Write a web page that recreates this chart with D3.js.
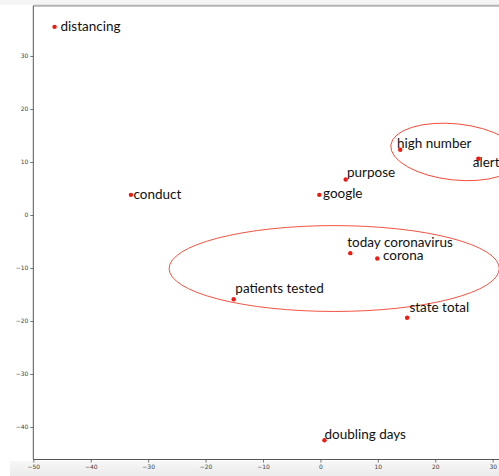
<!DOCTYPE html>
<html><head><meta charset="utf-8">
<script src="https://cdn.jsdelivr.net/npm/d3@7"></script>
<style>body{margin:0;background:#fff} svg{display:block}</style>
</head><body>
<svg id="chart" width="499" height="476"></svg>
<script>
// Word-embedding projection: each term and its 2-D coordinates
const words = ["distancing","conduct","google","purpose","today coronavirus","corona","patients tested","state total","doubling days","high number","alert"];
const xVals = [-46.3,-33.0,-0.2,4.4,5.2,9.9,-15.1,15.1,0.7,13.9,27.5];
const yVals = [35.5,3.8,3.8,6.7,-7.2,-8.2,-15.9,-19.4,-42.5,12.3,10.6];

const xTicks = [-50,-40,-30,-20,-10,0,10,20,30];
const yTicks = [-40,-30,-20,-10,0,10,20,30];

// Highlighted clusters: centre, full width / height (data units), tilt (deg)
const clusterCx = [2.4, 23.5];
const clusterCy = [-10.1, 11.9];
const clusterW = [57.5, 22.6];
const clusterH = [16.2, 10.6];
const clusterTilt = [0, 6];

// Per-label nudges in pixels so the annotations do not collide
const labelDx = [6, 2.6, 3.7, 1.3, -3, 5.7, 1.6, 2.3, 0, -3.3, -5.6];
const labelDy = [4, 4, 2.7, -2, -6.6, 1.3, -6, -5.7, -1.7, -1.7, 8.6];

const W = 499, H = 476;
const plot = {left: 33.3, top: 5.7, bottom: 459.5, right: 560};

const svg = d3.select("#chart");

// notebook frame tint
svg.append("rect").attr("x", 0).attr("y", 0).attr("width", W).attr("height", 5).attr("fill", "#f5f5f5");
const grad = svg.append("defs").append("linearGradient").attr("id", "band").attr("x1", 0).attr("y1", 0).attr("x2", 0).attr("y2", 1);
grad.append("stop").attr("offset", 0).attr("stop-color", "#f7f7f7");
grad.append("stop").attr("offset", 1).attr("stop-color", "#ebebeb");
svg.append("rect").attr("x", 10).attr("y", 461).attr("width", W - 10).attr("height", H - 461).attr("fill", "url(#band)");

const x = d3.scaleLinear().domain([-50, 30]).range([33.3, 492.7]);
const y = d3.scaleLinear().domain([-40, 30]).range([427, 56]);

const fmt = d => (d < 0 ? "\u2212" + Math.abs(d) : String(d));

const gx = svg.append("g").attr("transform", `translate(0,${plot.bottom})`)
  .call(d3.axisBottom(x).tickValues(xTicks).tickFormat(fmt).tickSize(3).tickPadding(2));
const gy = svg.append("g").attr("transform", `translate(${plot.left},0)`)
  .call(d3.axisLeft(y).tickValues(yTicks).tickFormat(fmt).tickSize(3).tickPadding(2));
[gx, gy].forEach(g => {
  g.select(".domain").remove();
  g.selectAll(".tick line").attr("stroke", "#555").attr("stroke-width", 0.8);
  g.selectAll(".tick text").attr("fill", "#444").attr("font-family", "DejaVu Sans").attr("font-size", 6);
});

// spines
svg.append("line").attr("x1", plot.left).attr("x2", W).attr("y1", plot.top).attr("y2", plot.top)
  .attr("stroke", "#b4b4b4").attr("stroke-width", 2);
svg.append("line").attr("x1", plot.left).attr("x2", plot.left).attr("y1", plot.top).attr("y2", plot.bottom)
  .attr("stroke", "#555").attr("stroke-width", 1);
svg.append("line").attr("x1", plot.left).attr("x2", W).attr("y1", plot.bottom).attr("y2", plot.bottom)
  .attr("stroke", "#555").attr("stroke-width", 1);

// cluster outlines
clusterCx.forEach((cx, i) => {
  const px = x(cx), py = y(clusterCy[i]);
  const rx = x(cx + clusterW[i] / 2) - px;
  const ry = py - y(clusterCy[i] + clusterH[i] / 2);
  svg.append("ellipse").attr("cx", px).attr("cy", py).attr("rx", rx).attr("ry", ry)
    .attr("transform", `rotate(${clusterTilt[i]},${px},${py})`)
    .attr("fill", "none").attr("stroke", "#f2412e").attr("stroke-width", 0.9);
});

// points
words.forEach((w, i) => {
  svg.append("circle").attr("cx", x(xVals[i])).attr("cy", y(yVals[i])).attr("r", 2.2).attr("fill", "#f01a10");
});

// labels
words.forEach((w, i) => {
  svg.append("text").attr("x", x(xVals[i]) + labelDx[i]).attr("y", y(yVals[i]) + labelDy[i])
    .attr("font-family", "Lato").attr("font-size", 13.5).attr("fill", "#111").text(w);
});
</script>
</body></html>
